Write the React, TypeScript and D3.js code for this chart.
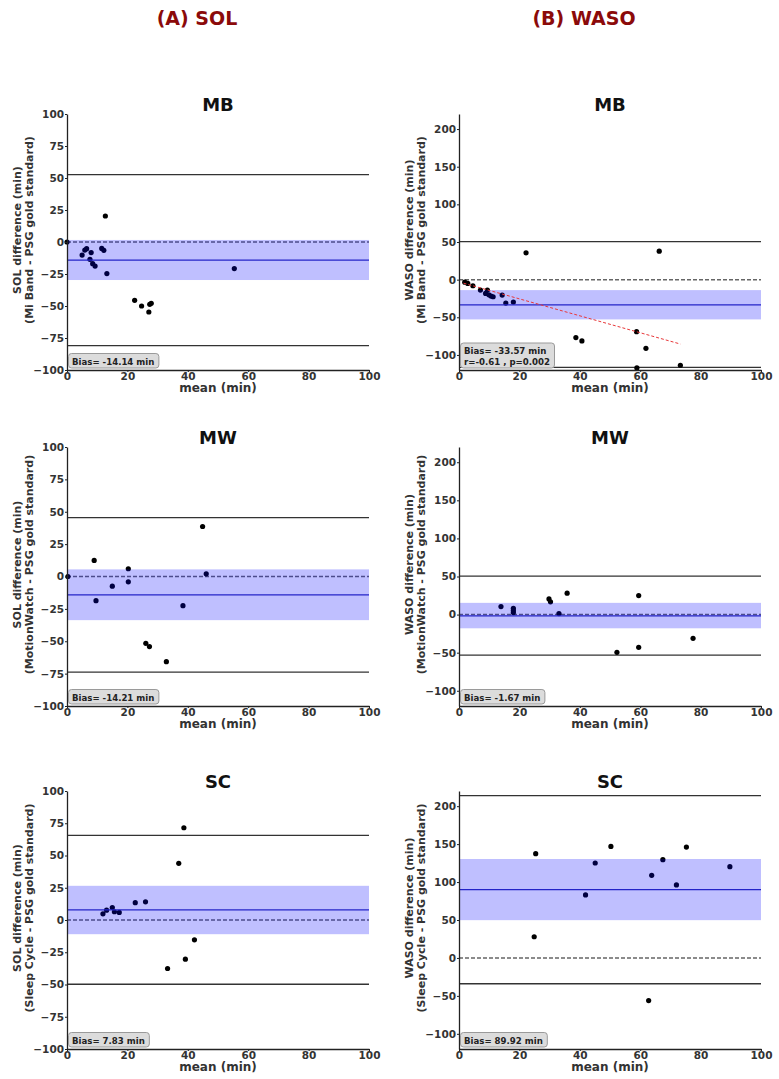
import { useEffect, useRef } from 'react';
import * as d3 from 'd3';

const headers = ['(A) SOL', '(B) WASO'];
const measures = ['SOL', 'WASO'];
const devices = ['MB', 'MW', 'SC'];
const deviceNames = ['Mi Band', 'MotionWatch', 'Sleep Cycle'];

// [mean, difference] in min
const solMb: [number, number][] = [
  [0, 0], [5.0, -10.2], [5.9, -6.3], [6.5, -5.2], [8.0, -8.3], [7.6, -13.5],
  [8.5, -16.9], [9.3, -18.8], [11.5, -5.0], [12.2, -6.5], [12.7, 20.3], [13.2, -24.7],
  [22.4, -45.6], [24.7, -50], [27.1, -54.7], [27.4, -48.7], [27.9, -47.9], [55.4, -20.8],
];
const solMw: [number, number][] = [
  [0.3, 0], [9.0, 12.4], [9.6, -18.7], [15.0, -7.5], [20.3, 6.0], [20.3, -4.1],
  [26.1, -51.6], [27.3, -54.1], [32.9, -65.8], [38.4, -22.5], [44.9, 38.6], [46.1, 2.1],
];
const solSc: [number, number][] = [
  [11.9, 4.8], [13.1, 7.6], [15.0, 9.7], [15.7, 6.4], [17.3, 5.9], [22.6, 13.4],
  [26.0, 14.1], [33.3, -37.6], [37.0, 43.9], [38.7, 71.5], [39.2, -30.4], [42.2, -15.4],
];
const wasoMb: [number, number][] = [
  [1.9, -3.3], [2.9, -5.0], [4.6, -8.1], [7.1, -13.8], [9.4, -13.8], [8.8, -18.3],
  [9.9, -20.1], [10.6, -21.8], [11.3, -22.7], [14.3, -20.5], [15.5, -31.1], [18.0, -29.8],
  [22.2, 35.6], [38.7, -77.0], [40.7, -81.4], [58.8, -69.1], [58.9, -117.3], [61.9, -91.2],
  [66.3, 37.8], [73.3, -113.7],
];
const wasoMw: [number, number][] = [
  [13.9, 10.5], [18.0, 8.3], [18.0, 5.3], [18.0, 2.6], [29.8, 20.6], [30.3, 16.7],
  [35.8, 28.1], [33.1, 1.3], [52.3, -49.6], [59.5, 25], [59.5, -43], [77.5, -31.1],
];
const wasoSc: [number, number][] = [
  [24.9, 27.9], [25.4, 137.4], [41.9, 83.1], [45.1, 125.1], [50.3, 147.0], [62.8, -56.2],
  [63.8, 108.9], [67.5, 129.5], [72.0, 96.2], [75.3, 146.1], [89.7, 120.3],
];

const points = [[solMb, solMw, solSc], [wasoMb, wasoMw, wasoSc]];
const biasValues = [[-14.14, -14.21, 7.83], [-33.57, -1.67, 89.92]];
const upperLoa = [[52.6, 45.5, 65.6], [50.5, 50.6, 214]];
const lowerLoa = [[-80.9, -73.8, -49.8], [-116.6, -53.2, -34]];
const bandLow = [[-29.7, -33.7, -11.0], [-52.8, -18.0, 49.8]];
const bandHigh = [[1.6, 5.5, 26.5], [-13.9, 15.4, 130.4]];

const wasoMbFitMean = [1.5, 73.3];
const wasoMbFitDiff = [-4.7, -85.5];
const wasoMbFitText = 'r=-0.61 , p=0.002';

const solTicks = [-100, -75, -50, -25, 0, 25, 50, 75, 100];
const wasoTicks = [-100, -50, 0, 50, 100, 150, 200];
const meanTicks = [0, 20, 40, 60, 80, 100];
const yDomains: [number, number][] = [[-100, 100], [-120, 220]];

const W = 779;
const H = 1079;
const colLeft = [67, 459];
const colRight = [369, 761];
const rowTop = [114, 447, 791];
const rowBottom = [370, 706, 1049];
const headerX = [197, 584];
const FONT = '"DejaVu Sans", Verdana, sans-serif';

export default function App() {
  const svgRef = useRef<SVGSVGElement>(null);

  useEffect(() => {
    if (!svgRef.current) return;
    const svg = d3.select(svgRef.current);
    svg.selectAll('*').remove();

    svg.append('rect').attr('width', W).attr('height', H).attr('fill', '#fff');

    // column headers
    headers.forEach((h, c) => {
      svg.append('text')
        .attr('x', headerX[c])
        .attr('y', 25)
        .attr('text-anchor', 'middle')
        .attr('fill', '#8b0a0a')
        .style('font-family', FONT)
        .style('font-size', '19px')
        .style('font-weight', 'bold')
        .text(h);
    });

    for (let c = 0; c < 2; c++) {
      for (let r = 0; r < 3; r++) {
        const left = colLeft[c];
        const right = colRight[c];
        const top = rowTop[r];
        const bottom = rowBottom[r];
        const x = d3.scaleLinear().domain([0, 100]).range([left, right]);
        const y = d3.scaleLinear().domain(yDomains[c]).range([bottom, top]);
        const g = svg.append('g');

        const hline = (v: number, stroke: string, width: number, dash?: string) => {
          const l = g.append('line')
            .attr('x1', x(0)).attr('x2', x(100))
            .attr('y1', y(v)).attr('y2', y(v))
            .attr('stroke', stroke).attr('stroke-width', width);
          if (dash) l.attr('stroke-dasharray', dash);
        };

        // limits of agreement
        hline(upperLoa[c][r], '#333', 1.3);
        hline(lowerLoa[c][r], '#333', 1.3);
        // zero reference
        hline(0, '#666', 1.5, '4,2');

        // points
        g.selectAll('circle.pt')
          .data(points[c][r])
          .enter()
          .append('circle')
          .attr('class', 'pt')
          .attr('cx', d => x(d[0]))
          .attr('cy', d => y(d[1]))
          .attr('r', 2.6)
          .attr('fill', '#000');

        // confidence band over points
        g.append('rect')
          .attr('x', x(0))
          .attr('width', x(100) - x(0))
          .attr('y', y(bandHigh[c][r]))
          .attr('height', y(bandLow[c][r]) - y(bandHigh[c][r]))
          .attr('fill', 'rgba(0,0,255,0.25)');

        // bias
        hline(biasValues[c][r], '#2424c8', 1.2);

        // regression line (WASO / MB only)
        if (c === 1 && r === 0) {
          g.append('line')
            .attr('x1', x(wasoMbFitMean[0])).attr('y1', y(wasoMbFitDiff[0]))
            .attr('x2', x(wasoMbFitMean[1])).attr('y2', y(wasoMbFitDiff[1]))
            .attr('stroke', '#e8383a')
            .attr('stroke-width', 1)
            .attr('stroke-dasharray', '3,2');
        }

        // axes
        const yAxis = g.append('g')
          .attr('transform', `translate(${left},0)`)
          .call(d3.axisLeft(y).tickValues(c === 0 ? solTicks : wasoTicks).tickSize(2).tickPadding(1).tickSizeOuter(0));
        const xAxis = g.append('g')
          .attr('transform', `translate(0,${bottom})`)
          .call(d3.axisBottom(x).tickValues(meanTicks).tickSize(2).tickPadding(1).tickSizeOuter(0));
        [yAxis, xAxis].forEach(ax => {
          ax.select('.domain').attr('stroke', '#222').attr('stroke-width', 1.3);
          ax.selectAll('.tick line').attr('stroke', '#222');
          ax.selectAll('.tick text')
            .attr('fill', '#333')
            .style('font-family', FONT)
            .style('font-size', '10.5px')
            .style('font-weight', 'bold');
        });

        // axis titles
        g.append('text')
          .attr('x', (left + right) / 2)
          .attr('y', bottom + 22)
          .attr('text-anchor', 'middle')
          .attr('fill', '#333')
          .style('font-family', FONT)
          .style('font-size', '12px')
          .style('font-weight', 'bold')
          .text('mean (min)');

        const midY = (top + bottom) / 2 - 12;
        const yLabels = [`${measures[c]} difference (min)`, `(${deviceNames[r]} - PSG gold standard)`];
        yLabels.forEach((t, i) => {
          g.append('text')
            .attr('transform', `translate(${left - 50 + i * 12},${midY}) rotate(-90)`)
            .attr('text-anchor', 'middle')
            .attr('dy', '0.35em')
            .attr('fill', '#333')
            .style('font-family', FONT)
            .style('font-size', '11px')
            .style('font-weight', 'bold')
            .text(t);
        });

        // panel title
        g.append('text')
          .attr('x', (left + right) / 2)
          .attr('y', top - 3)
          .attr('text-anchor', 'middle')
          .attr('fill', '#111')
          .style('font-family', FONT)
          .style('font-size', '18px')
          .style('font-weight', 'bold')
          .text(devices[r]);

        // bias box
        const lines = [`Bias= ${biasValues[c][r].toFixed(2)} min`];
        if (c === 1 && r === 0) lines.push(wasoMbFitText);
        const box = g.append('g');
        const rect = box.append('rect')
          .attr('fill', '#dcdcdc')
          .attr('stroke', '#9a9a9a')
          .attr('stroke-width', 1)
          .attr('rx', 3);
        const lineH = 10.5;
        const boxH = lines.length * lineH + 4;
        const boxTop = bottom - 2 - boxH;
        let maxW = 0;
        lines.forEach((t, i) => {
          const tx = box.append('text')
            .attr('x', left + 5)
            .attr('y', boxTop + 11 + i * lineH)
            .attr('fill', '#222')
            .style('font-family', FONT)
            .style('font-size', '8.6px')
            .style('font-weight', 'bold')
            .text(t);
          const node = tx.node() as SVGTextElement;
          maxW = Math.max(maxW, node.getComputedTextLength());
        });
        rect.attr('x', left + 1.5)
          .attr('y', boxTop)
          .attr('width', maxW + 8)
          .attr('height', boxH);
      }
    }
  }, []);

  return (
    <svg
      ref={svgRef}
      width={W}
      height={H}
      style={{ position: 'absolute', left: 0, top: 0 }}
    />
  );
}
